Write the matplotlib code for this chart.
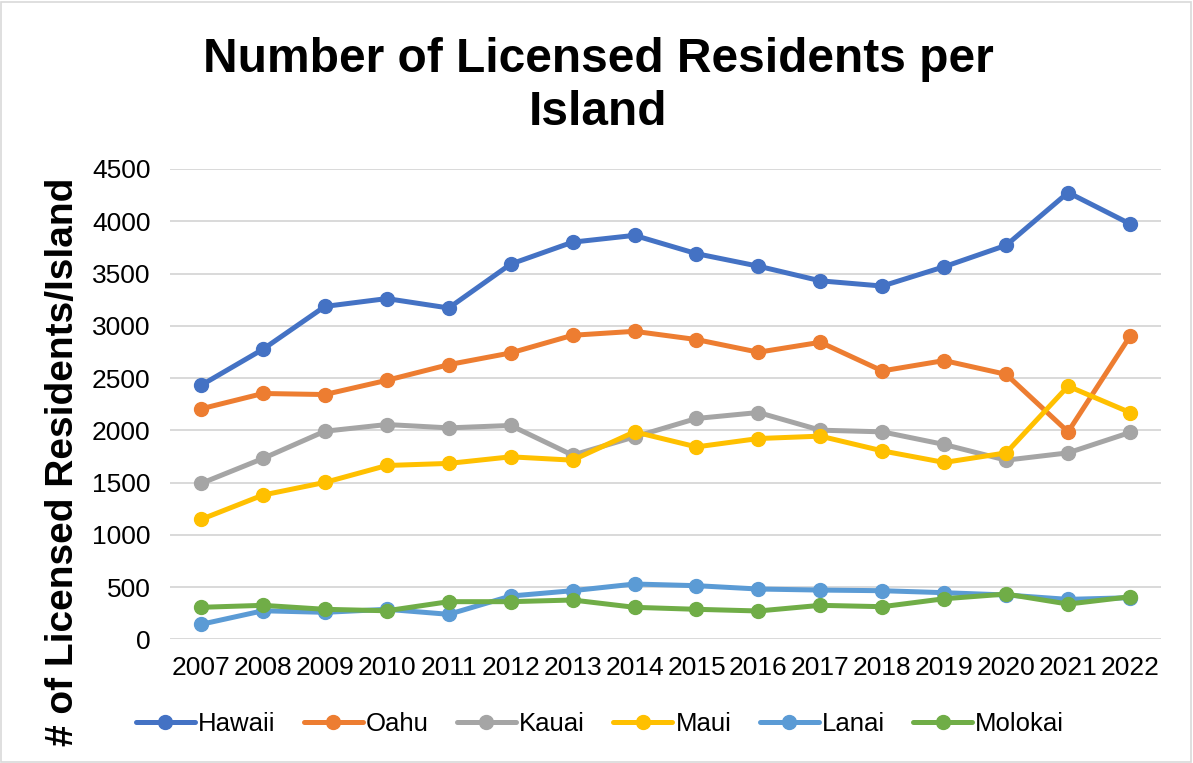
import matplotlib
matplotlib.use("Agg")
import matplotlib.pyplot as plt
from matplotlib.patches import Rectangle

years = [str(y) for y in range(2007, 2023)]
hawaii = [2430, 2775, 3185, 3260, 3170, 3590, 3800, 3865, 3690, 3570, 3430, 3380, 3565, 3770, 4275, 3975]
oahu = [2205, 2352, 2342, 2478, 2628, 2740, 2909, 2947, 2868, 2747, 2842, 2568, 2667, 2535, 1985, 2900]
kauai = [1491, 1730, 1991, 2055, 2023, 2046, 1762, 1937, 2113, 2170, 2001, 1985, 1864, 1714, 1784, 1979]
maui = [1147, 1380, 1501, 1663, 1683, 1746, 1714, 1985, 1841, 1921, 1944, 1803, 1692, 1784, 2422, 2170]
lanai = [143, 273, 258, 287, 239, 414, 465, 529, 513, 481, 471, 465, 446, 424, 382, 398]
molokai = [306, 325, 287, 273, 360, 360, 376, 306, 287, 271, 325, 312, 388, 433, 337, 407]

series = [("Hawaii", hawaii, "#4472C4"), ("Oahu", oahu, "#ED7D31"), ("Kauai", kauai, "#A5A5A5"),
          ("Maui", maui, "#FFC000"), ("Lanai", lanai, "#5B9BD5"), ("Molokai", molokai, "#70AD47")]
yticks = [0, 500, 1000, 1500, 2000, 2500, 3000, 3500, 4000, 4500]

plt.rcParams['font.family'] = ['Liberation Sans', 'DejaVu Sans']
fig = plt.figure(figsize=(11.93, 7.63), dpi=100)
W, H = 1193, 763
ax = fig.add_axes([170 / W, 1 - 639.3 / H, (1161 - 170) / W, (639.3 - 169) / H])

x = list(range(len(years)))
for name, vals, col in series:
    ax.plot(x, vals, color=col, lw=3.6, marker='o', ms=10, label=name, solid_capstyle='round')

ax.set_xlim(-0.5, len(years) - 0.5)
ax.set_ylim(0, 4500)
ax.set_yticks(yticks)
ax.set_xticks(x)
ax.set_xticklabels(years)
ax.tick_params(axis='both', length=0, labelsize=19, colors='black')
ax.tick_params(axis='x', pad=12)
ax.tick_params(axis='y', pad=14)
ax.grid(axis='y', color='#D9D9D9', lw=1.4)
ax.set_axisbelow(True)
for s in ax.spines.values():
    s.set_visible(False)

fig.text(598 / W, 1 - 72 / H, "Number of Licensed Residents per", ha='center', va='baseline',
         fontsize=34.5, fontweight='bold')
fig.text(598 / W, 1 - 125 / H, "Island", ha='center', va='baseline',
         fontsize=34.5, fontweight='bold')
fig.text(63 / W, 1 - 462 / H, "# of Licensed Residents/Island", ha='center', va='center',
         rotation=90, fontsize=28, fontweight='bold')

leg = fig.legend(loc='center', bbox_to_anchor=(600 / W, 1 - 724 / H), ncol=6, frameon=False,
                 fontsize=18.5, handlelength=2.3, columnspacing=1.1, handletextpad=0.12,
                 borderaxespad=0, borderpad=0)

fig.patches.append(Rectangle((1 / W, 1 / H), (W - 3) / W, (H - 3) / H, transform=fig.transFigure,
                             fill=False, edgecolor='#D9D9D9', lw=1.2))
fig.savefig("out.png", dpi=100)
